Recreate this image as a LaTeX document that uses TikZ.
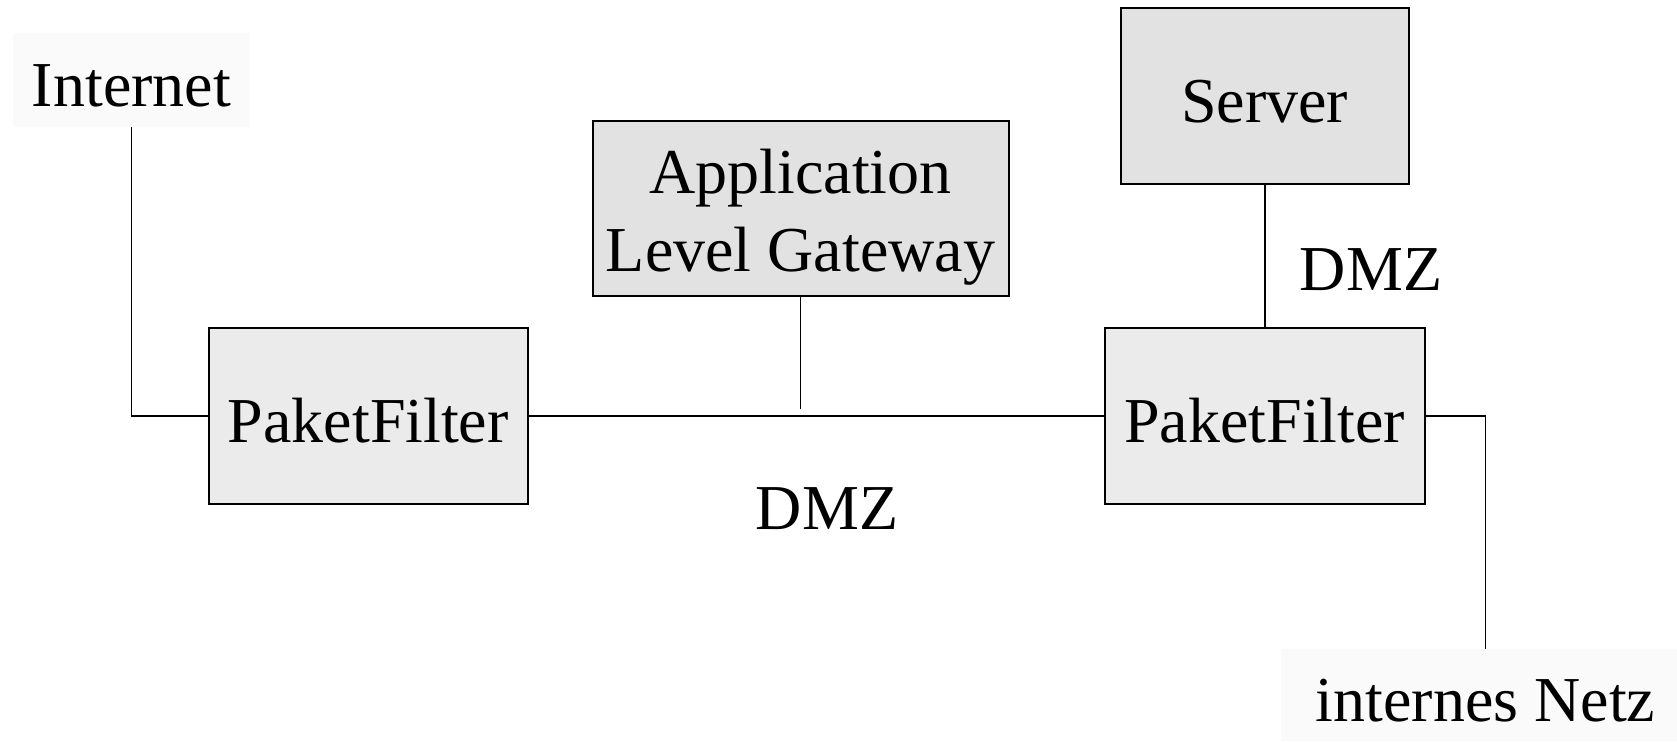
\documentclass[tikz,border=0pt]{standalone}
\usepackage{fontspec}
\setmainfont{Liberation Serif}
\usetikzlibrary{positioning}

\definecolor{filtergray}{RGB}{235,235,235}
\definecolor{boxgray}{RGB}{226,226,226}
\definecolor{netgray}{RGB}{250,250,250}

\tikzset{
  box/.style={draw, line width=1pt, inner sep=0pt, align=center,
    text height=26pt, text depth=0pt,
    font=\fontsize{32}{39}\selectfont},
  net/.style={fill=netgray, inner sep=0pt, text height=26pt, text depth=0pt,
    font=\fontsize{32}{39}\selectfont},
  wire/.style={line width=0.9pt}
}

\begin{document}
\begin{tikzpicture}[x=0.5pt, y=-0.5pt]

\useasboundingbox (0,0) rectangle (1677,741);

\node[net, minimum width=118.5pt, minimum height=47pt] (internet) at (131.5,80) {Internet};
\node[net, minimum width=204.5pt, minimum height=46pt] (netz) at (1485.5,695) {internes Netz};

\node[box, fill=filtergray, minimum width=159.75pt, minimum height=88pt] (filter1) at (368.25,416) {PaketFilter};
\node[box, fill=filtergray, minimum width=159.75pt, minimum height=88pt] (filter2) at (1264.75,416) {PaketFilter};
\node[box, fill=boxgray, minimum width=208pt, minimum height=87.5pt, text height=63pt, text depth=0pt] (gateway) at (800.5,208.5) {Application\\Level Gateway};
\node[box, fill=boxgray, minimum width=143.75pt, minimum height=87.75pt] (server) at (1264.75,96) {Server};

\node[font=\fontsize{32}{39}\selectfont] (dmz1) at (827,509) {DMZ};
\node[font=\fontsize{32}{39}\selectfont] (dmz2) at (1371,269.5) {DMZ};

\coordinate (gwend) at (800.5,409);

\draw[wire] (internet.south) |- (filter1.west);
\draw[wire] (filter1.east) -- (filter2.west);
\draw[wire] (gateway.south) -- (gwend);
\draw[wire] (server.south) -- (filter2.north);
\draw[wire] (filter2.east) -| (netz.north);

\end{tikzpicture}
\end{document}
